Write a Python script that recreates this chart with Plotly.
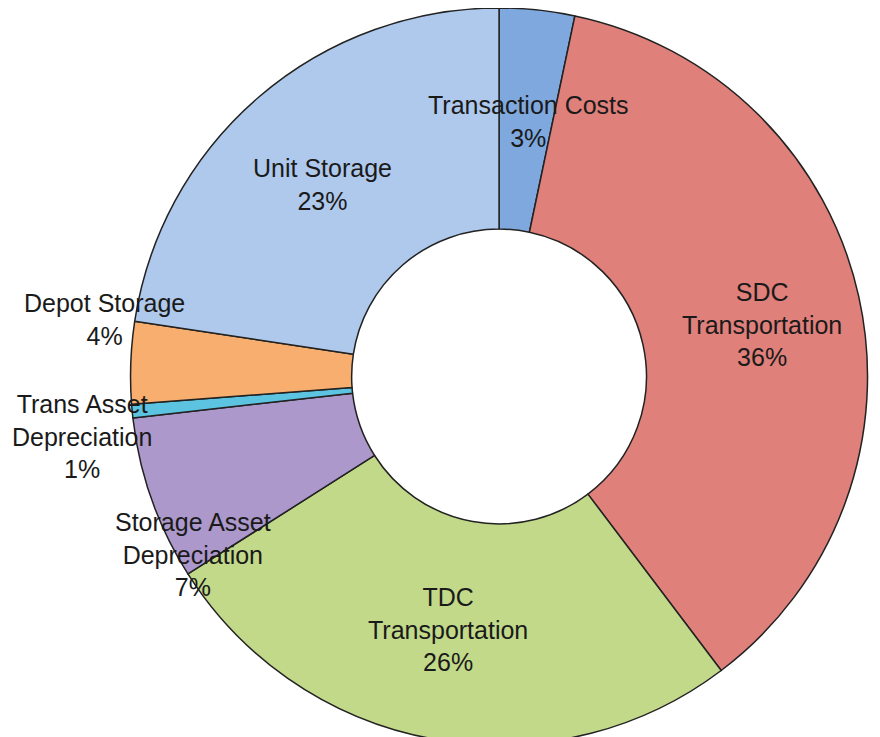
import plotly.graph_objects as go

# slices, clockwise from 12 o'clock
labels = [
    "Transaction Costs",
    "SDC Transportation",
    "TDC Transportation",
    "Storage Asset Depreciation",
    "Trans Asset Depreciation",
    "Depot Storage",
    "Unit Storage",
]
values = [3.3, 36.4, 26.3, 7.2, 0.6, 3.6, 22.6]
colors = ["#7ea8de", "#e0807b", "#c2d98a", "#ad98cc", "#5cc4e0", "#f7ae6e", "#afc9ec"]

# label text shown on the chart (line breaks as in the original)
label_lines = [
    "Transaction Costs",
    "SDC<br>Transportation",
    "TDC<br>Transportation",
    "Storage Asset<br>Depreciation",
    "Trans Asset<br>Depreciation",
    "Depot Storage",
    "Unit Storage",
]
# where each label sits, in paper fractions
label_pos = [
    (0.591, 0.846),
    (0.857, 0.570),
    (0.500, 0.157),
    (0.210, 0.258),
    (0.084, 0.419),
    (0.110, 0.578),
    (0.357, 0.760),
]

fig = go.Figure(
    go.Pie(
        labels=labels,
        values=values,
        sort=False,
        direction="clockwise",
        rotation=0,
        hole=0.40,
        textinfo="none",
        marker=dict(colors=colors, line=dict(color="#222222", width=1.5)),
        domain=dict(x=[0.125, 0.991], y=[0.0, 1.0]),
        showlegend=False,
    )
)

total = sum(values)
for text, val, (px, py) in zip(label_lines, values, label_pos):
    fig.add_annotation(
        x=px,
        y=py,
        xref="paper",
        yref="paper",
        xanchor="center",
        yanchor="middle",
        text=f"{text}<br>{round(val / total * 100)}%",
        showarrow=False,
        align="center",
        font=dict(family="Liberation Sans, Arial", size=25, color="#1a1a1a"),
    )

fig.update_layout(
    width=880,
    height=737,
    margin=dict(l=0, r=0, t=0, b=0),
    paper_bgcolor="white",
    plot_bgcolor="white",
)

fig.write_html("out.html")
